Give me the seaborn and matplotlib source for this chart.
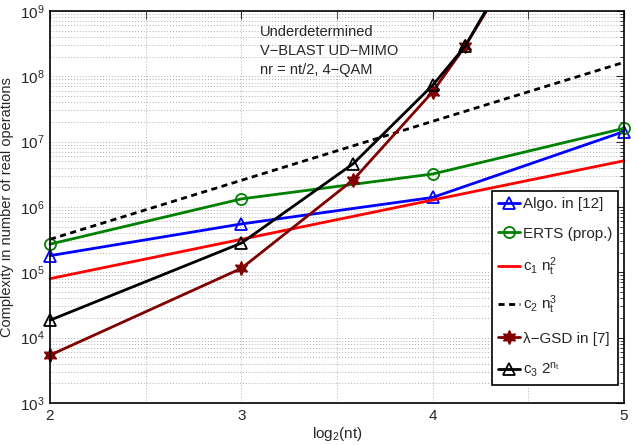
import numpy as np
import pandas as pd
import matplotlib
matplotlib.use("Agg")
import matplotlib.pyplot as plt
from matplotlib.ticker import LogLocator, FixedLocator, NullFormatter
import seaborn as sns

# log2(nt) values
x_main = [2, 3, 4, 5]
x_exp = [2, 3, 3.585, 4, 4.17, 5]

algo12 = [1.8e5, 5.5e5, 1.4e6, 1.43e7]
erts = [2.7e5, 1.33e6, 3.2e6, 1.6e7]
c1_nt2 = [8.0e4, 3.2e5, 1.28e6, 5.1e6]
c2_nt3 = [3.2e5, 2.56e6, 2.05e7, 1.64e8]
gsd7 = [5.4e3, 1.15e5, 2.6e6, 5.8e7, 2.9e8, 3.0e12]
c3_2nt = [1.85e4, 2.8e5, 4.6e6, 7.3e7, 2.9e8, 4.7e12]

labels = ["Algo. in [12]", "ERTS (prop.)", r"$\mathregular{c_1\ n_t^2}$",
          r"$\mathregular{c_2\ n_t^3}$", "λ−GSD in [7]", r"$\mathregular{c_3\ 2^{n_t}}$"]

sns.set_style("white")
plt.rcParams["font.family"] = ["Liberation Sans", "DejaVu Sans"]
plt.rcParams["mathtext.fontset"] = "custom"
plt.rcParams["mathtext.rm"] = "Liberation Sans"
plt.rcParams["mathtext.it"] = "Liberation Sans"
plt.rcParams["xtick.direction"] = "in"
plt.rcParams["ytick.direction"] = "in"

fig = plt.figure(figsize=(6.37, 4.45), dpi=100)
ax = fig.add_axes([50 / 637, 1 - 403 / 445, (624 - 50) / 637, (403 - 11) / 445])

hexagram = (6, 1, 0)
series = [
    (x_main, algo12, labels[0], dict(color="#0000FF", marker="^", ms=8, mfc="none", mec="#0000FF", mew=1.3)),
    (x_main, erts, labels[1], dict(color="#008000", marker="o", ms=8, mfc="none", mec="#008000", mew=1.3)),
    (x_main, c1_nt2, labels[2], dict(color="#FF0000")),
    (x_main, c2_nt3, labels[3], dict(color="black", dashes=(2.2, 1.6))),
    (x_exp, gsd7, labels[4], dict(color="#800000", marker=hexagram, ms=10, mfc="#800000", mec="#800000", mew=1.0)),
    (x_exp, c3_2nt, labels[5], dict(color="black", marker="^", ms=9, mfc="none", mec="black", mew=1.3)),
]

for xs, ys, lab, kw in series:
    df = pd.DataFrame({"x": xs, "y": ys})
    sns.lineplot(data=df, x="x", y="y", ax=ax, label=lab, lw=2, **kw)

for ln in ax.get_lines():
    ln.set_clip_on(False)

ax.set_yscale("log")
ax.set_xlim(2, 5)
ax.set_ylim(1e3, 1e9)

# keep curves that run above the top inside the frame
clip_rect = plt.Rectangle((0, 0), 1, 1, transform=ax.transAxes, visible=False)
ax.add_patch(clip_rect)
for ln in ax.get_lines():
    ln.set_clip_on(True)
    ln.set_clip_path(plt.Rectangle((-0.03, -0.03), 1.06, 1.03, transform=ax.transAxes))

ax.xaxis.set_major_locator(FixedLocator([2, 3, 4, 5]))
ax.xaxis.set_minor_locator(FixedLocator([2.5, 3.5, 4.5]))
ax.set_xticklabels(["2", "3", "4", "5"])
ax.yaxis.set_major_locator(LogLocator(base=10, numticks=10))
ax.yaxis.set_minor_locator(LogLocator(base=10, subs=np.arange(2, 10), numticks=100))
ax.yaxis.set_minor_formatter(NullFormatter())

ax.tick_params(which="both", top=True, right=True, labelsize=11, pad=4)
ax.tick_params(which="major", length=6, width=0.8)
ax.tick_params(which="minor", length=3, width=0.6)
ax.tick_params(axis="x", which="minor", length=6)

ax.grid(True, which="both", axis="both", color="#b0b0b0", linestyle=(0, (1, 2)), lw=0.7)
for s in ax.spines.values():
    s.set_linewidth(1.2)
    s.set_color("black")
    s.set_zorder(5)

ax.set_xlabel(r"log$_\mathregular{2}$(nt)", fontsize=11, labelpad=2)
ax.set_ylabel("Complexity in number of real operations", fontsize=10.5, labelpad=4)

ax.text(0.366, 0.965, "Underdetermined\nV−BLAST UD−MIMO\nnr = nt/2, 4−QAM",
        transform=ax.transAxes, fontsize=10.5, va="top", ha="left", linespacing=1.45)

leg = ax.legend(loc="lower right", bbox_to_anchor=(0.99, 0.045), fontsize=11,
                frameon=True, fancybox=False, edgecolor="black", framealpha=1,
                handlelength=1.4, handletextpad=0.2, labelspacing=1.0,
                borderpad=0.4, borderaxespad=0)
leg.get_frame().set_linewidth(1.2)
leg.set_zorder(10)

fig.savefig("out.png", dpi=100)
